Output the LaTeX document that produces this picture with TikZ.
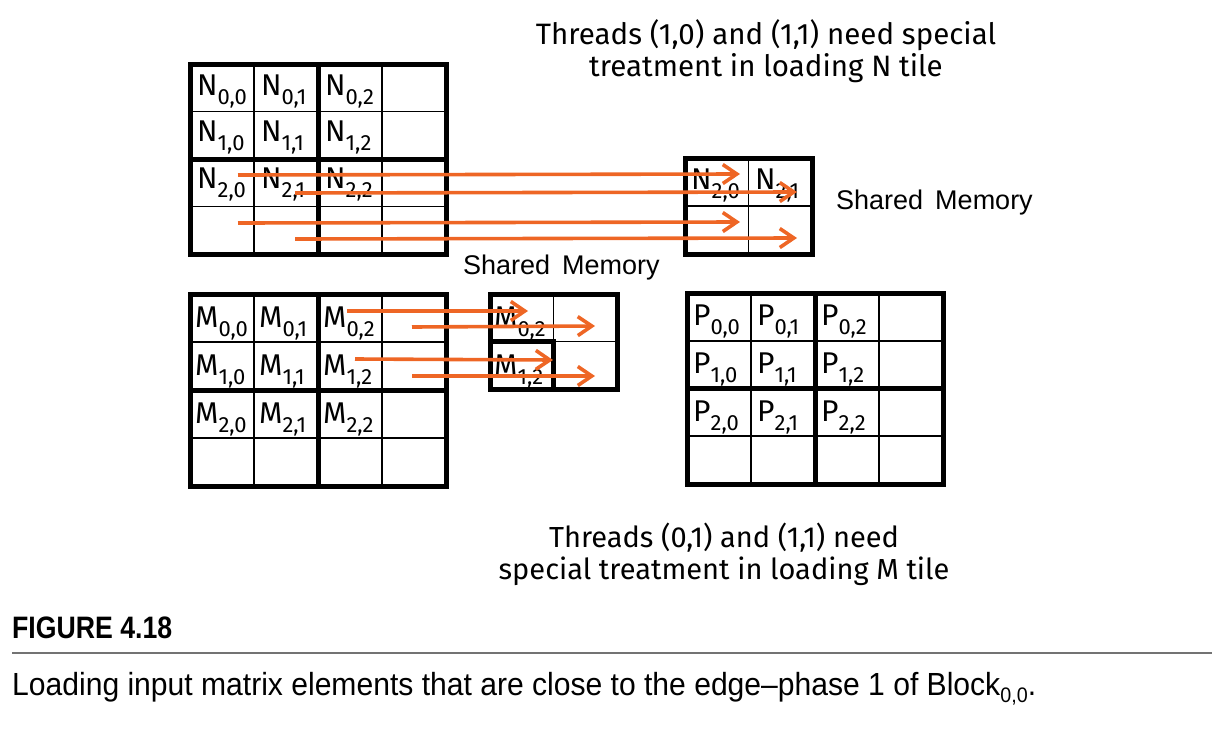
\documentclass[tikz,border=0pt]{standalone}
\usepackage{fontspec}
\setmainfont{Fira Sans}
\newfontfamily\arialfont{Liberation Sans}
\usepackage{xcolor}
\usetikzlibrary{calc, arrows.meta, positioning}

\definecolor{loadorange}{RGB}{238,102,37}
\definecolor{rulegray}{RGB}{115,115,115}

% lowered index in the cell labels
\newcommand{\idx}[1]{\raisebox{-9pt}{\fontsize{22}{22}\selectfont #1}}
% 4x4 tile: left, top, right, bottom
\newcommand{\tilegrid}[4]{%
  \foreach \k in {1,3}{
    \draw[thin rule] ({#1+\k*(#3-#1)/4},#2) -- ({#1+\k*(#3-#1)/4},#4);
    \draw[thin rule] (#1,{#2+\k*(#4-#2)/4}) -- (#3,{#2+\k*(#4-#2)/4});
  }
  \draw[thick rule] ({(#1+#3)/2},#2) -- ({(#1+#3)/2},#4);
  \draw[thick rule] (#1,{(#2+#4)/2}) -- (#3,{(#2+#4)/2});
  \draw[thick rule] (#1,#2) rectangle (#3,#4);
}

\tikzset{
  thin rule/.style={line width=1.6pt},
  thick rule/.style={line width=5pt},
  cell/.style={anchor=base west, inner sep=0pt, font=\fontsize{30}{30}\selectfont},
  note/.style={align=center, inner sep=0pt, font=\fontsize{29.5}{32}\selectfont},
  shared/.style={anchor=base west, inner sep=0pt, font=\arialfont\fontsize{27}{27}\selectfont},
  load/.style={loadorange, line width=3.6pt, -{Straight Barb[length=14pt, width=19pt, line width=3.6pt]}},
}

\begin{document}
\begin{tikzpicture}[x=1pt, y=-1pt]
  \useasboundingbox (0,0) rectangle (1220,728);

  % N tile, shared N, M tile, shared M, P tile
  \tilegrid{190}{64}{446}{254}
  \tilegrid{190}{294}{446}{486}
  \tilegrid{687}{293}{943}{484}
  \draw[thin rule] (748.5,158) -- (748.5,254);
  \draw[thin rule] (685,206) -- (812,206);
  \draw[thick rule] (685,158) rectangle (812,254);
  \draw[thin rule] (553.5,294) -- (553.5,341.5) (553.5,341.5) -- (617,341.5);
  \draw[thick rule] (490,341.5) -- (553.5,341.5) -- (553.5,389);
  \draw[thick rule] (490,294) rectangle (617,389);

  % cell labels
  \foreach \r in {0,1,2}{
    \foreach \c in {0,1,2}{
      \node[cell] (N\r\c) at ({197+64*\c},{95+46.5*\r}) {N\idx{\r,\c}};
      \node[cell] (M\r\c) at ({195+64*\c},{327+48*\r}) {M\idx{\r,\c}};
      \node[cell] (P\r\c) at ({693+64*\c},{325+48*\r}) {P\idx{\r,\c}};
    }
  }
  \node[cell] (sN20) at (691,189) {N\idx{2,0}};
  \node[cell] (sN21) at (755,189) {N\idx{2,1}};
  \node[cell] (sM02) at (494,327) {M\idx{0,2}};
  \node[cell] (sM12) at (494,375) {M\idx{1,2}};

  % loading arrows
  \coordinate (nA) at (238,175);  \coordinate (nA') at (740,174);
  \coordinate (nB) at (295,193);  \coordinate (nB') at (797,192);
  \coordinate (nC) at (238,223);  \coordinate (nC') at (740,222);
  \coordinate (nD) at (295,239);  \coordinate (nD') at (797,238);
  \coordinate (mA) at (347,311);  \coordinate (mA') at (528,311);
  \coordinate (mB) at (412,327);  \coordinate (mB') at (595,326);
  \coordinate (mC) at (355,359);  \coordinate (mC') at (553,360);
  \coordinate (mD) at (412,376);  \coordinate (mD') at (595,376);
  \foreach \a in {nA,nB,nC,nD,mA,mB,mC,mD}
    \draw[load] (\a) -- (\a');

  % notes
  \node[note] (nnote) at (766,51) {Threads (1,0) and (1,1) need special\\treatment in loading N tile};
  \node[note, font=\fontsize{29}{32}\selectfont] (mnote) at (724,554) {Threads (0,1) and (1,1) need\\special treatment in loading M tile};
  \node[shared] (sharedN) at (836,209) {Shared\, Memory};
  \node[shared] (sharedM) at (463,274) {Shared\, Memory};

  % caption
  \node[anchor=base west, inner sep=0pt] (fig) at (12,638)
    {\scalebox{0.86}[1]{\arialfont\bfseries\fontsize{31}{31}\selectfont FIGURE 4.18}};
  \draw[rulegray, line width=2pt] (12,653) -- (1212,653);
  \node[anchor=base west, inner sep=0pt] (caption) at (12,695)
    {\scalebox{0.94}[1]{\arialfont\fontsize{32}{32}\selectfont Loading input matrix elements that are close to the edge\textendash phase 1 of Block\raisebox{-7pt}{\fontsize{21}{21}\selectfont 0,0}.}};
\end{tikzpicture}
\end{document}
